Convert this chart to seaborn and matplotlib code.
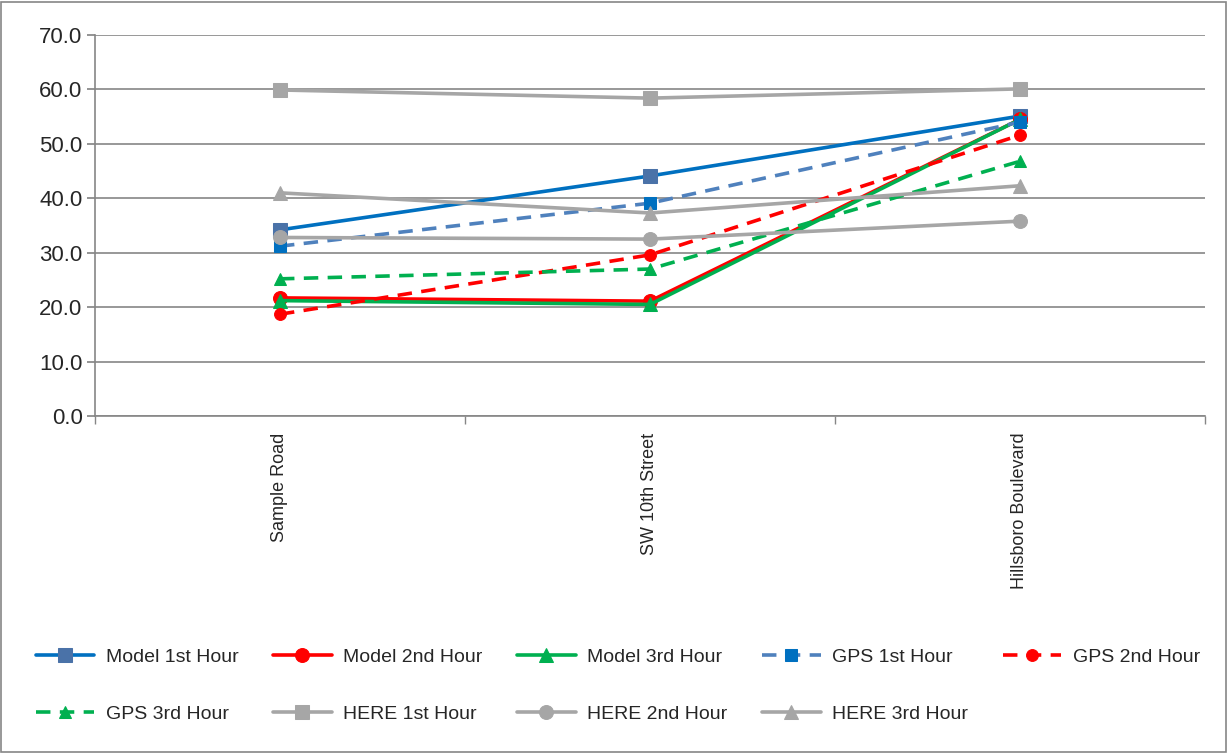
import matplotlib
matplotlib.use("Agg")
import matplotlib.pyplot as plt
import seaborn as sns
import numpy as np
import pandas as pd

categories = ["Sample Road", "SW 10th Street", "Hillsboro Boulevard"]

model_1st = [34.2, 44.1, 55.1]
model_2nd = [21.7, 21.1, 54.5]
model_3rd = [21.2, 20.5, 54.5]
gps_1st = [31.2, 39.1, 54.0]
gps_2nd = [18.7, 29.6, 51.6]
gps_3rd = [25.2, 27.0, 46.8]
here_1st = [59.9, 58.4, 60.1]
here_2nd = [32.8, 32.5, 35.8]
here_3rd = [41.0, 37.3, 42.3]

series_names = ["Model 1st Hour", "Model 2nd Hour", "Model 3rd Hour",
                "GPS 1st Hour", "GPS 2nd Hour", "GPS 3rd Hour",
                "HERE 1st Hour", "HERE 2nd Hour", "HERE 3rd Hour"]
series_values = [model_1st, model_2nd, model_3rd, gps_1st, gps_2nd, gps_3rd,
                 here_1st, here_2nd, here_3rd]

gray = "#A6A6A6"
styles = [
    dict(color="#0070C0", mfc="#4A72A8", marker="s", ms=10, ls="-"),
    dict(color="#FF0000", mfc="#FF0000", marker="o", ms=10, ls="-"),
    dict(color="#00B050", mfc="#00B050", marker="^", ms=10, ls="-"),
    dict(color="#4F81BD", mfc="#0070C0", marker="s", ms=8.5, ls="--"),
    dict(color="#FF0000", mfc="#FF0000", marker="o", ms=8.5, ls="--"),
    dict(color="#00B050", mfc="#00B050", marker="^", ms=8.5, ls="--"),
    dict(color=gray, mfc=gray, marker="s", ms=10, ls="-"),
    dict(color=gray, mfc=gray, marker="o", ms=10, ls="-"),
    dict(color=gray, mfc=gray, marker="^", ms=10, ls="-"),
]

sns.set_theme(style="white")
plt.rcParams["font.family"] = ["Liberation Sans", "DejaVu Sans"]

fig = plt.figure(figsize=(12.28, 7.53), dpi=100)
ax = fig.add_axes([95/1228, (753-416)/753, (1205-95)/1228, (416-35)/753])

xpos = np.arange(len(categories))
lines = {}
for i in range(9):
    st = styles[i]
    df = pd.DataFrame({"x": xpos, "y": series_values[i]})
    sns.lineplot(data=df, x="x", y="y", ax=ax, color=st["color"], lw=2.6,
                 marker=st["marker"], markersize=st["ms"],
                 markerfacecolor=st["mfc"], markeredgecolor=st["mfc"],
                 linestyle=st["ls"], label=series_names[i], legend=False,
                 zorder=3 + i * 0.01)
    ln = ax.lines[-1]
    if st["ls"] == "--":
        ln.set_dashes((4, 2.6))
    lines[i] = ln

ax.set_xlim(-0.5, 2.5)
ax.set_ylim(0, 70)
ax.set_yticks(np.arange(0, 71, 10))
ax.set_yticklabels([f"{v:.1f}" for v in np.arange(0, 71, 10)], fontsize=16)
ax.set_xticks(xpos)
ax.set_xticklabels(categories, rotation=90, fontsize=13, va="top")
ax.set_xticks([-0.5, 0.5, 1.5, 2.5], minor=True)
ax.tick_params(axis="x", which="major", length=0, pad=12)
ax.tick_params(axis="x", which="minor", length=6, color="#868686", direction="out", bottom=True)
ax.tick_params(axis="y", length=6, color="#868686", direction="out", left=True, pad=3)
ax.set_xlabel("")
ax.set_ylabel("")
ax.yaxis.grid(True, color="#868686", lw=1.2)
ax.xaxis.grid(False)
for s in ["top", "right"]:
    ax.spines[s].set_visible(False)
for s in ["left", "bottom"]:
    ax.spines[s].set_color("#868686")
    ax.spines[s].set_linewidth(1.2)

order = [0, 5, 1, 6, 2, 7, 3, 8, 4]
hl = [lines[i] for i in order]
labels = [series_names[i] for i in order]
leg = fig.legend(hl, labels, loc="lower left", ncol=5,
                 bbox_to_anchor=(28/1228, 22/753, 1180/1228, 106/753),
                 mode="expand", frameon=False, fontsize=14,
                 handlelength=3.0, handletextpad=0.6, labelspacing=2.05,
                 borderaxespad=0)

fig.patches.append(plt.Rectangle((0.001, 0.001), 0.997, 0.997, transform=fig.transFigure,
                                 fill=False, edgecolor="#868686", lw=1.2))

fig.savefig("out.png", dpi=100)
